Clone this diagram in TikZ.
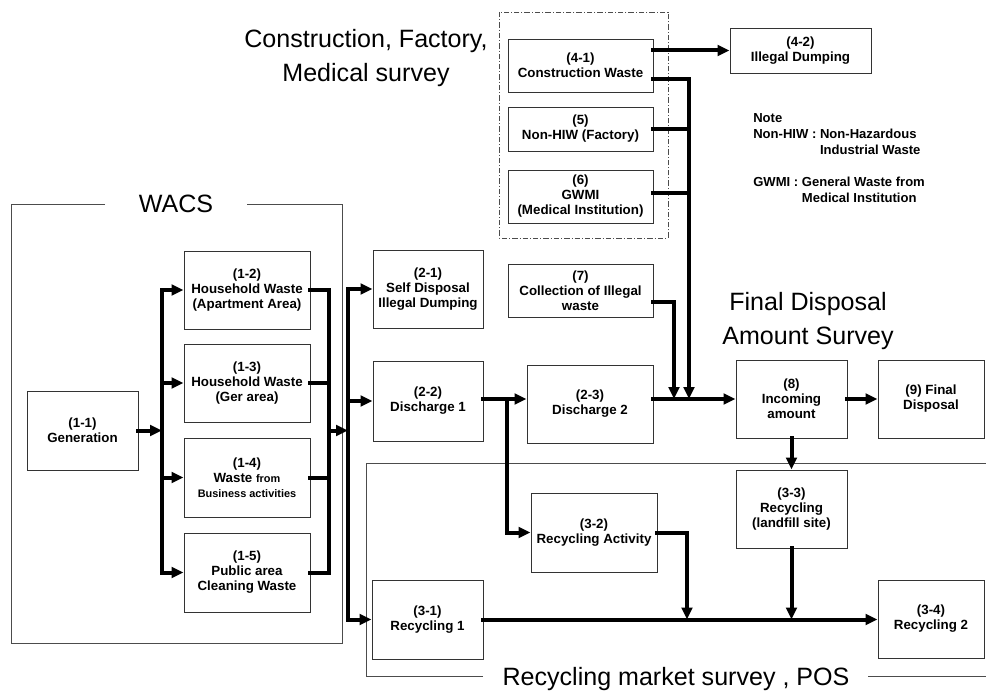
\documentclass[tikz,border=0pt]{standalone}
\usepackage{fontspec}
\setmainfont{Liberation Sans}
\usetikzlibrary{arrows.meta,calc}

\tikzset{
  box/.style={draw=black!80, line width=0.7pt, align=center, inner sep=1pt,
    font=\bfseries\fontsize{10}{11.25}\selectfont},
  boxsize/.style 2 args={minimum width=#1*0.75pt, minimum height=#2*0.75pt},
  flow/.style={line width=3pt, line cap=rect, -{Triangle[length=9pt,width=8pt]}},
  bus/.style={line width=3pt, line cap=rect},
  frame/.style={draw=black!70, line width=0.7pt},
  title/.style={font=\fontsize{18.8}{25}\selectfont, align=center},
  note/.style={font=\bfseries\fontsize{9.8}{12}\selectfont, align=left, inner sep=0pt, anchor=north west},
}

\begin{document}
\begin{tikzpicture}[x=0.75pt, y=-0.75pt]
    \useasboundingbox (0,0) rectangle (986,692);

    % Survey frames
    \draw[frame] (105,204) -| (11,643) -| (342,204) -- (247,204);
    \node[title] (wacs) at (176,204) {WACS};
    \draw[frame] (483,676) -- (366,676) -- (366,463) -- (986,463);
    \draw[frame] (868,676) -- (986,676);
    \node[title, anchor=base] (recsurvey) at (676,685) {Recycling market survey , POS};
    \draw[frame, dash pattern=on 4pt off 1.5pt on 0.8pt off 1.5pt] (499,12) rectangle (668,238);
    \node[title] (cfmsurvey) at (366,58) {Construction, Factory,\\Medical survey};
    \node[title] (fdsurvey) at (808,321) {Final Disposal\\Amount Survey};

    % Generation and discharge sources
    \node[box, boxsize={111}{79}] (g11) at (82.5,430.5) {(1-1)\\Generation};
    \node[box, boxsize={126}{78}] (b12) at (247,290) {(1-2)\\Household Waste\\(Apartment Area)};
    \node[box, boxsize={126}{78}] (b13) at (247,383) {(1-3)\\Household Waste\\(Ger area)};
    \node[box, boxsize={126}{79}] (b14) at (247,477.5) {(1-4)\\Waste {\fontsize{8.2}{9}\selectfont from}\\{\fontsize{8.2}{9}\selectfont Business activities}};
    \node[box, boxsize={126}{79}] (b15) at (247,572.5) {(1-5)\\Public area\\Cleaning Waste};

    % Discharge
    \node[box, boxsize={110}{78}] (b21) at (428,289) {(2-1)\\Self Disposal\\Illegal Dumping};
    \node[box, boxsize={110}{80}] (b22) at (428,401) {(2-2)\\Discharge 1};
    \node[box, boxsize={126}{78}] (b23) at (590,404) {(2-3)\\Discharge 2};
    \node[box, boxsize={145}{53}] (b7) at (580.5,290.5) {(7)\\Collection of Illegal\\waste};

    % Construction, factory, medical
    \node[box, boxsize={145}{53}] (b41) at (580.5,65.5) {(4-1)\\Construction Waste};
    \node[box, boxsize={145}{44}] (b5) at (580.5,129) {(5)\\Non-HIW (Factory)};
    \node[box, boxsize={145}{53}] (b6) at (580.5,196.5) {(6)\\GWMI\\(Medical Institution)};
    \node[box, boxsize={141}{45}] (b42) at (800.5,50.5) {(4-2)\\Illegal Dumping};

    % Final disposal
    \node[box, boxsize={111}{78}] (b8) at (791.5,399) {(8)\\Incoming\\amount};
    \node[box, boxsize={106}{78}] (b9) at (931,399) {(9) Final\\Disposal};

    % Recycling
    \node[box, boxsize={126}{79}] (b32) at (594,532.5) {(3-2)\\Recycling Activity};
    \node[box, boxsize={111}{79}] (b31) at (427.5,619.5) {(3-1)\\Recycling 1};
    \node[box, boxsize={111}{78}] (b33) at (791.5,509) {(3-3)\\Recycling\\(landfill site)};
    \node[box, boxsize={106}{78}] (b34) at (931,619) {(3-4)\\Recycling 2};

    % Note
    \node[note] (note) at (753,113) {Note\\Non-HIW : Non-Hazardous\\\phantom{Non-HIW : }Industrial Waste\\[12pt]GWMI : General Waste from\\\phantom{GWMI : }Medical Institution};

    % Bus lines
    \coordinate (busA) at (162,0);
    \coordinate (busB) at (329,0);
    \coordinate (busC) at (348,0);
    \coordinate (busD) at (507,0);
    \coordinate (busE) at (674,0);
    \coordinate (busF) at (689,0);
    \coordinate (busG) at (687,0);

    % Generation to sources
    \draw[flow] (g11.east) -- (busA |- g11.east);
    \draw[bus] (busA |- b12.west) -- (busA |- b15.west);
    \foreach \b in {b12,b13,b14,b15}
        \draw[flow] (busA |- \b.west) -- (\b.west);

    % Sources to discharge
    \foreach \b in {b12,b13,b14,b15}
        \draw[bus] (\b.east) -- (busB |- \b.east);
    \draw[bus] (busB |- b12.east) -- (busB |- b15.east);
    \draw[flow] (busB |- g11.east) -- (busC |- g11.east);
    \draw[bus] (busC |- b21.west) -- (busC |- b31.west);
    \foreach \b in {b21,b22,b31}
        \draw[flow] (busC |- \b.west) -- (\b.west);

    % Discharge to final disposal
    \draw[flow] (b22.east |- b8.west) -- (b23.west |- b8.west);
    \draw[flow] (busD |- b8.west) |- (b32.west);
    \draw[flow] (b23.east |- b8.west) -- (b8.west);
    \draw[flow] ($(b7.east)+(0,11)$) -| (busE |- b8.west);

    % Construction, factory, medical waste
    \draw[flow] (b41.east |- b42.west) -- (b42.west);
    \draw[flow] ($(b41.east)+(0,14)$) -| (busF |- b8.west);
    \draw[bus] (b5.east) -- (busF |- b5.east);
    \draw[bus] ($(b6.east)+(0,-4)$) -- (busF |- {$(b6.east)+(0,-4)$});

    % Final disposal and recycling
    \draw[flow] (b8.east) -- (b9.west);
    \draw[flow] (b8.south) -- (b33.north);
    \draw[flow] (b31.east) -- (b31.east -| b34.west);
    \draw[flow] (b32.east) -| (busG |- b31.east);
    \draw[flow] (b33.south) -- (b33.south |- b31.east);
\end{tikzpicture}
\end{document}
